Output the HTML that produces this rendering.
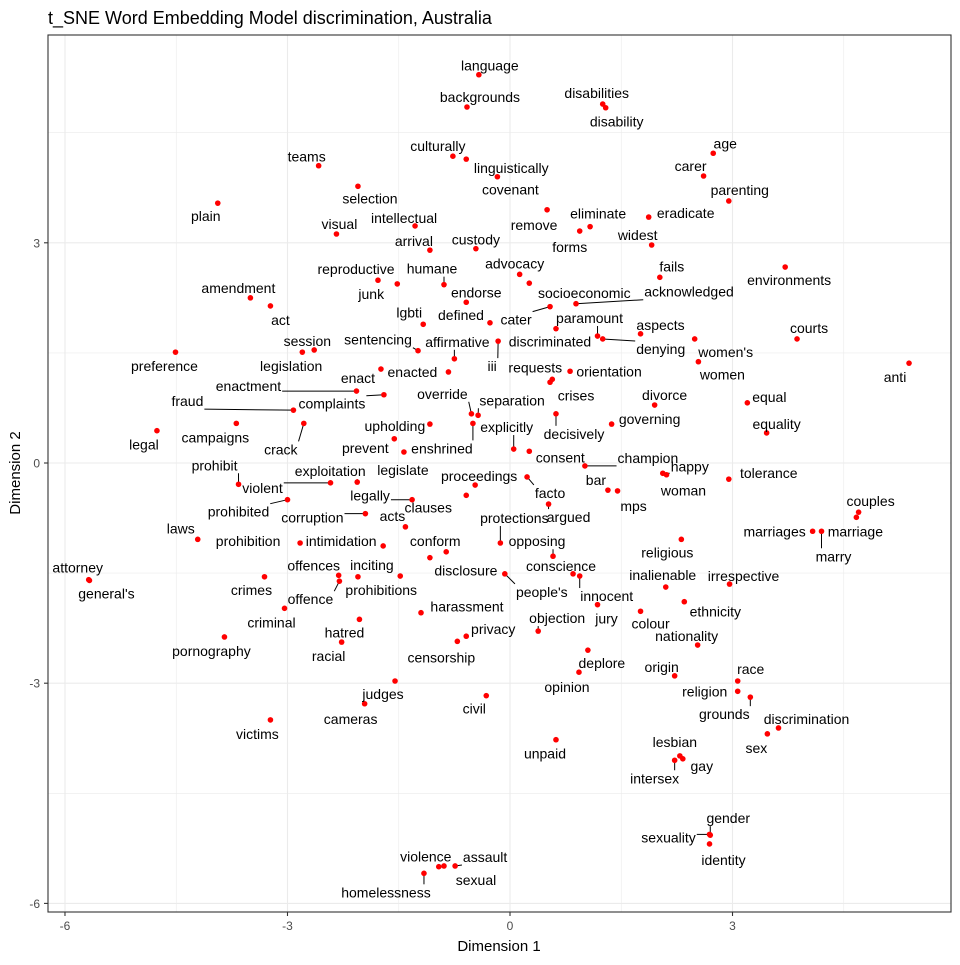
<!DOCTYPE html>
<html><head><meta charset="utf-8"><style>
body{margin:0;background:#fff;}
svg text{font-family:"Liberation Sans",Arial,sans-serif;}
</style></head><body>
<svg id="chart" width="960" height="960" viewBox="0 0 960 960" xmlns="http://www.w3.org/2000/svg">
<rect width="960" height="960" fill="#fff"/>
<text x="48" y="24" font-size="18" fill="#000">t_SNE Word Embedding Model discrimination, Australia</text>
<g id="grid"></g>
<g id="segs"></g>
<g id="pts"></g>
<g id="labs"></g>
<rect x="48" y="35" width="903" height="877" fill="none" stroke="#333" stroke-width="1.1"/>
<g id="axes"></g>
<text x="499" y="951" font-size="15" text-anchor="middle">Dimension 1</text>
<text transform="translate(20,473) rotate(-90)" font-size="15" text-anchor="middle">Dimension 2</text>
</svg>
<script>
const words = ["language","backgrounds","disabilities","disability","culturally","linguistically","teams","age","carer","covenant","parenting","plain","selection","intellectual","visual","remove","eliminate","eradicate","forms","widest","custody","arrival","advocacy","socioeconomic","humane","reproductive","junk","fails","environments","amendment","act","endorse","acknowledged","cater","lgbti","defined","paramount","aspects","courts","women's","denying","discriminated","iii","women","anti","session","legislation","preference","sentencing","affirmative","enacted","enact","requests","crises","orientation","divorce","equal","enactment","complaints","fraud","crack","campaigns","legal","override","separation","enshrined","explicitly","consent","prevent","legislate","decisively","governing","equality","upholding","champion","happy","woman","tolerance","bar","mps","couples","marriage","marriages","marry","prohibit","violent","exploitation","proceedings","clauses","legally","facto","argued","prohibited","corruption","acts","laws","prohibition","intimidation","protections","opposing","conform","disclosure","conscience","innocent","people's","religious","inalienable","irrespective","ethnicity","colour","jury","nationality","attorney","general's","crimes","offences","offence","inciting","prohibitions","criminal","harassment","hatred","racial","pornography","privacy","censorship","objection","deplore","opinion","origin","race","religion","grounds","judges","cameras","civil","victims","unpaid","discrimination","sex","lesbian","gay","intersex","gender","sexuality","identity","violence","sexual","assault","homelessness"];
const dim1 = [-0.42,-0.58,1.25,1.29,-0.77,-0.59,-2.58,2.74,2.61,-0.17,2.95,-3.94,-2.05,-1.28,-2.34,0.50,1.08,1.87,0.94,1.91,-0.46,-1.08,0.13,0.26,-0.89,-1.78,-1.52,2.02,3.71,-3.50,-3.23,-0.59,0.89,0.54,-1.17,-0.27,1.18,1.76,3.87,2.49,1.25,0.62,-0.16,2.54,5.38,-2.80,-2.64,-4.51,-1.24,-0.75,-0.83,-1.74,0.57,0.54,0.81,1.95,3.20,-2.07,-1.70,-2.92,-2.78,-3.69,-4.76,-0.52,-0.43,-0.50,0.05,0.26,-1.56,-1.43,0.62,1.37,3.46,-1.08,1.01,2.06,2.11,2.95,1.32,1.45,4.70,4.67,4.08,4.20,-3.66,-2.42,-2.06,-0.47,-0.59,-1.32,0.23,0.52,-3.00,-1.95,-1.41,-4.21,-2.83,-1.71,-0.13,0.58,-0.86,-1.08,0.85,0.94,-0.07,2.31,2.10,2.96,2.35,1.76,1.18,2.53,-5.68,-5.67,-3.31,-2.31,-2.30,-2.05,-1.48,-3.04,-1.20,-2.03,-2.27,-3.85,-0.59,-0.71,0.38,1.05,0.93,2.22,3.07,3.07,3.24,-1.55,-1.96,-0.32,-3.23,0.62,3.62,3.47,2.29,2.33,2.22,2.70,2.69,2.69,-0.96,-0.89,-0.74,-1.16];
const dim2 = [5.29,4.85,4.89,4.84,4.18,4.14,4.05,4.22,3.91,3.90,3.57,3.54,3.77,3.23,3.12,3.45,3.22,3.35,3.16,2.97,2.92,2.90,2.57,2.45,2.43,2.49,2.44,2.53,2.67,2.25,2.14,2.19,2.17,2.13,1.89,1.91,1.73,1.76,1.69,1.69,1.69,1.83,1.66,1.38,1.36,1.51,1.54,1.51,1.53,1.42,1.24,1.28,1.14,1.10,1.25,0.79,0.82,0.98,0.93,0.72,0.54,0.54,0.44,0.67,0.65,0.54,0.19,0.16,0.33,0.15,0.67,0.53,0.41,0.53,-0.04,-0.14,-0.16,-0.22,-0.37,-0.38,-0.67,-0.74,-0.93,-0.93,-0.29,-0.27,-0.26,-0.30,-0.44,-0.50,-0.19,-0.56,-0.50,-0.69,-0.87,-1.04,-1.09,-1.13,-1.09,-1.27,-1.21,-1.29,-1.51,-1.54,-1.51,-1.04,-1.69,-1.65,-1.89,-2.02,-1.93,-2.48,-1.59,-1.60,-1.55,-1.53,-1.61,-1.55,-1.54,-1.98,-2.04,-2.13,-2.44,-2.37,-2.36,-2.43,-2.29,-2.55,-2.85,-2.90,-2.97,-3.11,-3.19,-2.97,-3.28,-3.17,-3.50,-3.77,-3.61,-3.69,-3.99,-4.03,-4.05,-5.07,-5.06,-5.19,-5.50,-5.49,-5.49,-5.59];
const xTicks = [-6,-3,0,3];
const yTicks = [-6,-3,0,3];
const xMinor = [-4.5,-1.5,1.5,4.5];
const yMinor = [-4.5,-1.5,1.5,4.5];
// label layout: pixel offsets of label centre from point, and whether a leader segment is drawn
const labelDx = [11,13,-6,11,-15,45,-12,12,-13,13,11,-12,12,-11,3,-13,8,37,-10,-14,0,-16,-5,55,-12,-22,-26,12,4,-12,10,10,113,-34,-14,-29,-8,20,12,31,58,-6,-6,24,-14,5,-23,-11,-40,3,-36,-23,-17,26,39,10,22,-108,-52,-106,-23,-21,-13,-29,34,-31,-7,31,-29,-1,18,38,10,-35,63,27,17,40,-12,16,12,-1,-38,12,-24,-68,-27,4,-38,-42,23,20,-49,-53,-13,-17,-52,-42,14,-16,-11,36,-12,27,37,-14,-3,14,31,10,9,-11,-11,17,-13,-25,-29,14,-19,-13,46,-15,-13,-13,27,-16,19,14,-12,-13,13,-33,-26,-12,-14,-12,-13,-11,28,-11,-5,19,-20,18,-41,14,-13,32,30,-38];
const labelDy = [-9,-10,-11,14,-10,9,-9,-10,-10,13,-11,13,12,-8,-10,15,-13,-4,16,-10,-9,-9,-11,10,-16,-11,10,-11,13,-10,14,-10,-12,13,-12,-8,-18,-9,-11,13,10,13,25,13,14,-11,16,14,-11,-17,0,9,-12,13,0,-10,-6,-5,9,-9,26,14,14,-20,-15,25,-22,6,9,18,20,-5,-9,2,-8,-7,16,-6,-10,15,-11,14,0,25,-19,5,-11,-9,12,-4,16,13,12,4,-11,-11,-2,-5,-25,-15,-11,13,-8,20,18,13,-12,-8,10,12,14,-9,-12,13,13,-10,18,-12,14,14,-6,13,14,14,-7,16,-13,13,15,-9,-12,0,17,13,15,13,14,14,-9,14,-14,7,18,-17,3,16,-10,14,-9,19];
const segWords = ["humane","acknowledged","cater","paramount","denying","iii","sentencing","affirmative","enactment","complaints","fraud","crack","override","separation","enshrined","explicitly","decisively","champion","happy","marry","prohibit","violent","exploitation","legally","facto","argued","prohibited","corruption","protections","opposing","innocent","people's","offence","objection","grounds","intersex","gender","sexuality","assault","homelessness"];

const X0=510, XS=74.17, Y0=463, YS=73.4;
const sx = v => X0 + v*XS;
const sy = v => Y0 - v*YS;
const NS="http://www.w3.org/2000/svg";
function mk(tag, parent, attrs){const e=document.createElementNS(NS,tag);for(const k in attrs)e.setAttribute(k,attrs[k]);parent.appendChild(e);return e;}

const grid=document.getElementById('grid');
xMinor.forEach(v=>{const l=mk('line',grid,{x1:sx(v),x2:sx(v),y1:35,y2:912,stroke:'#ebebeb','stroke-width':0.6});

});
yMinor.forEach(v=>{const l=mk('line',grid,{y1:sy(v),y2:sy(v),x1:48,x2:951,stroke:'#ebebeb','stroke-width':0.6});

});
xTicks.forEach(v=>{const l=mk('line',grid,{x1:sx(v),x2:sx(v),y1:35,y2:912,stroke:'#ebebeb','stroke-width':1.1});

});
yTicks.forEach(v=>{const l=mk('line',grid,{y1:sy(v),y2:sy(v),x1:48,x2:951,stroke:'#ebebeb','stroke-width':1.1});

});

const axes=document.getElementById('axes');
xTicks.forEach(v=>{
  const t=mk('line',axes,{x1:sx(v),x2:sx(v),y1:912,y2:916,stroke:'#333','stroke-width':1.1});
  
  
  const tx=mk('text',axes,{x:sx(v),y:930,'font-size':12,fill:'#4d4d4d','text-anchor':'middle'});
  tx.textContent=v;
  
  
});
yTicks.forEach(v=>{
  const t=mk('line',axes,{x1:44,x2:48,y1:sy(v),y2:sy(v),stroke:'#333','stroke-width':1.1});
  
  
  const tx=mk('text',axes,{x:40,y:sy(v)+4.5,'font-size':12,fill:'#4d4d4d','text-anchor':'end'});
  tx.textContent=v;
  
  
});

const pts=document.getElementById('pts'), labs=document.getElementById('labs'), segs=document.getElementById('segs');
words.forEach((w,i)=>{
  const px=sx(dim1[i]), py=sy(dim2[i]);
  const c=mk('circle',pts,{cx:px,cy:py,r:2.8,fill:'#ff0000'});
  
  
  const lx=px+labelDx[i], ly=py+labelDy[i];
  const t=mk('text',labs,{x:lx,y:ly+5,'font-size':14,fill:'#000','text-anchor':'middle'});
  t.textContent=w;
  
  
  if(segWords.includes(w)){
    let tw=w.length*7; try{tw=t.getComputedTextLength();}catch(e){}
    const hw=tw/2+1, hh=8;
    const ex=Math.max(lx-hw,Math.min(px,lx+hw)), ey=Math.max(ly-hh,Math.min(py,ly+hh));
    const s=mk('line',segs,{x1:px,y1:py,x2:ex,y2:ey,stroke:'#000','stroke-width':1});
    
    
  }
});
</script>
</body></html>
